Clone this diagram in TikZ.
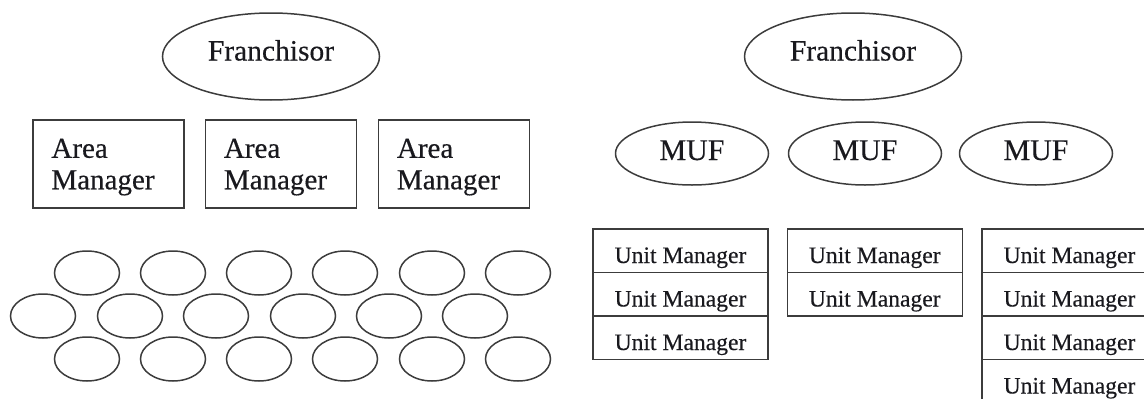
\documentclass[tikz,border=0pt]{standalone}
\usepackage{fontspec}
\setmainfont{Liberation Serif}[UprightFeatures={FakeBold=0.35}]
\usetikzlibrary{shapes.geometric,calc}
\definecolor{inkline}{RGB}{60,60,60}
\definecolor{inktext}{RGB}{25,25,30}
\begin{document}
\begin{tikzpicture}[x=1pt,y=-1pt,
  every node/.style={text=inktext},
  oval/.style={ellipse,draw=inkline,line width=1.5pt,inner sep=0pt},
  headoval/.style={oval,minimum width=217pt,minimum height=87pt,
    font=\fontsize{29.5}{33}\selectfont,text height=20pt,text depth=12pt},
  mufoval/.style={oval,minimum width=153pt,minimum height=63pt,
    font=\fontsize{30}{33}\selectfont,text height=20pt,text depth=7pt},
  unitoval/.style={oval,minimum width=65pt,minimum height=44pt},
  areabox/.style={draw=inkline,line width=1.5pt,minimum width=151pt,
    minimum height=88pt,inner sep=0pt},
  areatext/.style={anchor=base west,inner sep=0pt,text width=120pt,
    align=left,font=\fontsize{29}{31.5}\selectfont},
  cell/.style={draw=inkline,line width=1.5pt,minimum width=175pt,
    minimum height=43.5pt,inner sep=0pt,text height=24.5pt,text depth=0pt,
    font=\fontsize{23.6}{26}\selectfont}
]
\clip (0,0) rectangle (1144,399);

% ---- area manager model ----
\node[headoval] (fl) at (271,56.5) {Franchisor};
\foreach \i/\x in {1/108.5,2/281,3/454}{
  \node[areabox] (a\i) at (\x,164) {};
  \node[areatext] (a\i t) at ($(a\i.north west)+(19,38.5)$) {Area\\Manager};
}
\foreach \r/\y in {1/273,3/359}
  \foreach \i/\x in {1/87,2/173,3/259,4/345,5/432,6/518}
    \node[unitoval] (u\r\i) at (\x,\y) {};
\foreach \i/\x in {1/43,2/130,3/216,4/303,5/389,6/475}
  \node[unitoval] (u2\i) at (\x,316) {};

% ---- multi-unit franchisee model ----
\node[headoval] (fr) at (853,56.5) {Franchisor};
\foreach \i/\x in {1/692,2/865,3/1036}
  \node[mufoval] (m\i) at (\x,153.5) {MUF};

\foreach \i/\x/\n in {1/680.5/3,2/874.75/2,3/1069.5/4}
  \foreach \k in {1,...,\n}
    \node[cell] (t\i\k) at (\x,{229+21.75+43.5*(\k-1)}) {Unit Manager};
\end{tikzpicture}
\end{document}
